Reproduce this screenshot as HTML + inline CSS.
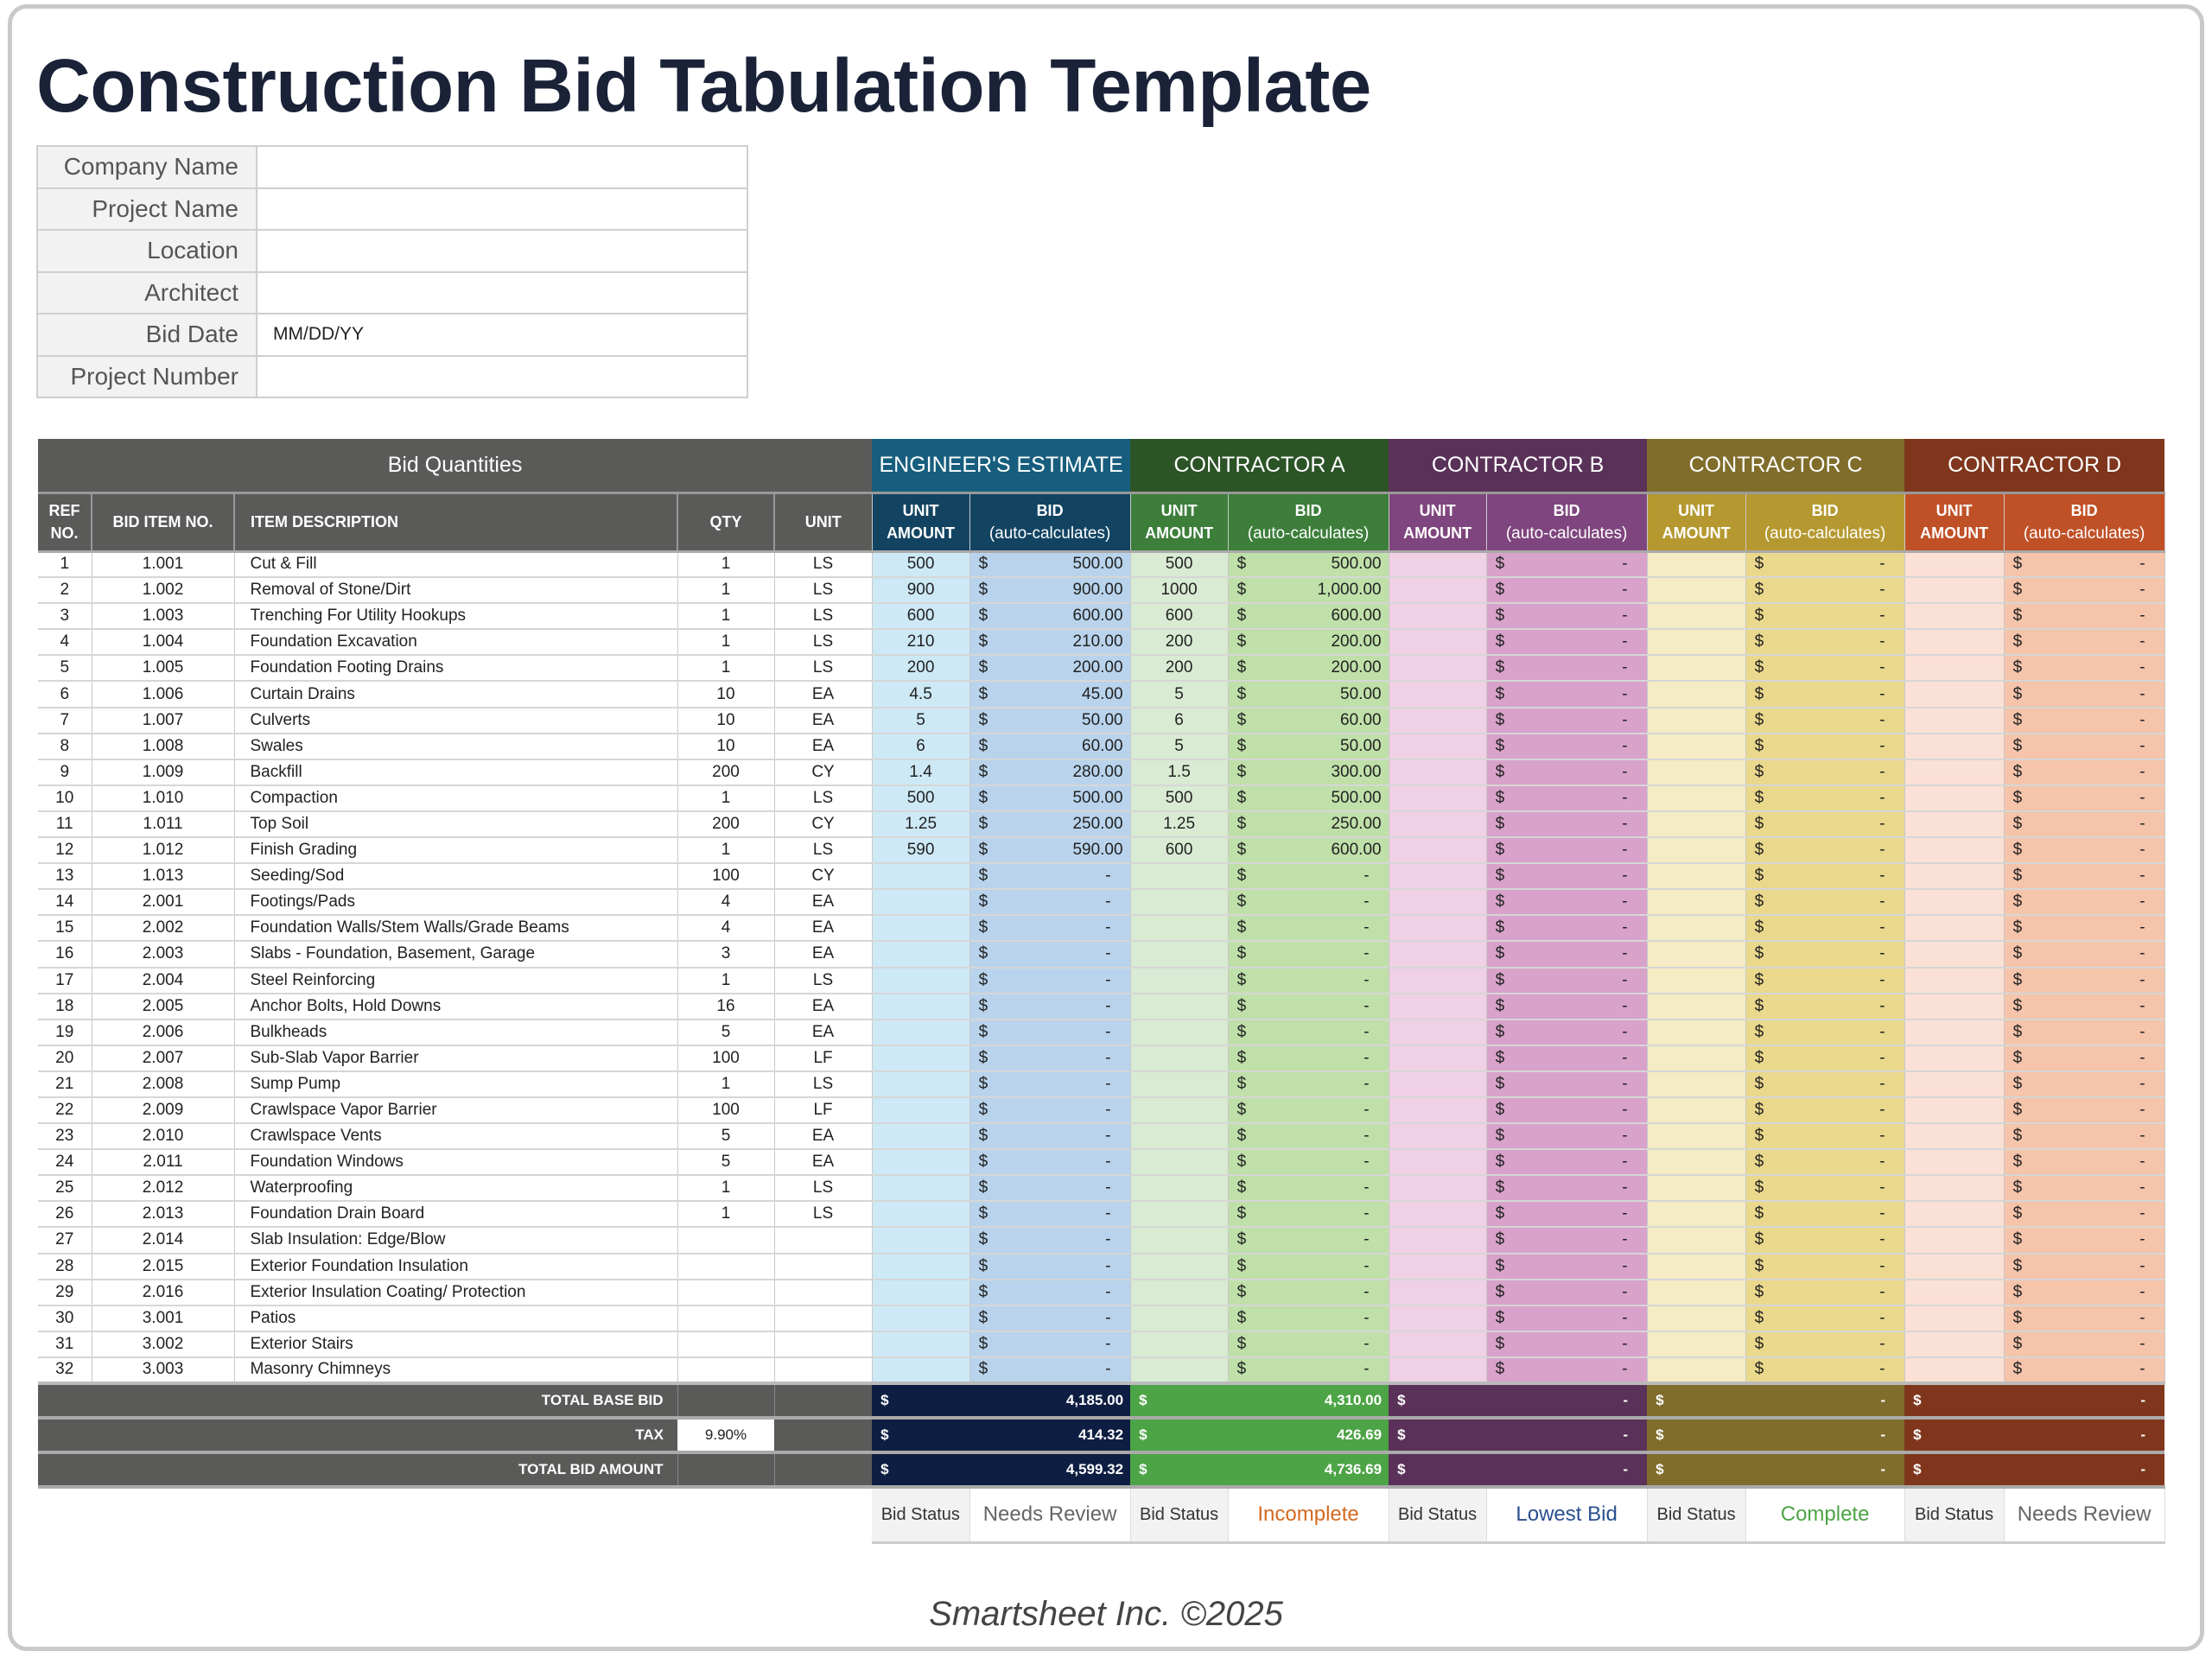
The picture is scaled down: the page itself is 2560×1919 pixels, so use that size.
<!DOCTYPE html>
<html><head><meta charset="utf-8"><style>
*{box-sizing:border-box;margin:0;padding:0}
body{width:2560px;height:1919px;background:#fff;font-family:"Liberation Sans",sans-serif;position:relative;overflow:hidden}
.frame{position:absolute;left:9px;top:5px;width:2542px;height:1906px;border:5px solid #c9c9c9;border-radius:22px}
h1{position:absolute;left:42px;top:50px;font-size:87px;font-weight:bold;color:#1a2238;letter-spacing:-0.5px;white-space:nowrap}
.info{position:absolute;left:42px;top:168px;border-collapse:collapse;width:824px}
.info td{border:2px solid #cfcfcf;height:48.5px;font-size:28px;color:#555}
.info td.l{width:254px;background:#f2f2f2;text-align:right;padding-right:20px}
.info td.v{font-size:21px;color:#222;padding-left:18px}
table.m{position:absolute;left:44px;top:508px;border-collapse:collapse;table-layout:fixed;width:2461px}
.m td{font-size:19px;color:#222;text-align:center;white-space:nowrap;overflow:hidden;border-bottom:2px solid #d6d6d6;border-right:1px solid #c8c8c8;height:30.1px;padding:0 6px}
.m td.d{text-align:left;padding-left:18px}
.h1 td{height:62px;font-size:25px;color:#fff;border:none;border-bottom:3px solid #999}
.h2 td{height:68px;font-size:18px;font-weight:bold;color:#fff;border-bottom:3px solid #aaa;line-height:26px}
.h2 td span{font-weight:normal;font-size:19px}
.g{background:#5a5b59;color:#fff!important}
.mo{text-align:right!important;padding-right:8px!important}
.mo i{float:left;font-style:normal;padding-left:4px}
.e1{background:#cde9f6}.e2{background:#b9d3ec;border-left:1px dashed #fff}
.a1{background:#d9ebd3}.a2{background:#bfe0a9;border-left:1px dashed #fff}
.b1{background:#efd0e5}.b2{background:#d8a2ca;border-left:1px dashed #fff}
.c1{background:#f5ebc4}.c2{background:#ead98c;border-left:1px dashed #fff}
.x1{background:#fbe1d5}.x2{background:#f5c4ab;border-left:1px dashed #fff}
.dsh{padding-right:22px!important}
.t td{height:40px;font-size:17px;font-weight:bold;color:#fff;border-bottom:4px solid #aaa;border-right:none}
.s td{height:64px;border:none;border-bottom:3px solid #ccc;font-size:20px;color:#333}
.s td.sl{background:#f2f2f2;border-right:1px solid #ddd}
.s td.sv{font-size:24px;border-right:1px solid #ddd}
.foot{position:absolute;left:0;width:2560px;top:1846px;text-align:center;font-size:40px;font-style:italic;color:#444}
</style></head><body>
<div class="frame"></div>
<h1>Construction Bid Tabulation Template</h1>
<table class="info">
<tr><td class="l">Company Name</td><td></td></tr>
<tr><td class="l">Project Name</td><td></td></tr>
<tr><td class="l">Location</td><td></td></tr>
<tr><td class="l">Architect</td><td></td></tr>
<tr><td class="l">Bid Date</td><td class="v">MM/DD/YY</td></tr>
<tr><td class="l">Project Number</td><td></td></tr>
</table>
<table class="m">
<colgroup><col style="width:62px"><col style="width:165px"><col style="width:513px"><col style="width:112px"><col style="width:113px"><col style="width:113px"><col style="width:186px"><col style="width:113px"><col style="width:186px"><col style="width:113px"><col style="width:186px"><col style="width:114px"><col style="width:184px"><col style="width:115px"><col style="width:186px"></colgroup>
<tr class="h1"><td colspan="5" class="g">Bid Quantities</td><td colspan="2" style="background:#175e7e">ENGINEER'S ESTIMATE</td><td colspan="2" style="background:#2c5427">CONTRACTOR A</td><td colspan="2" style="background:#5a3159">CONTRACTOR B</td><td colspan="2" style="background:#806d2b">CONTRACTOR C</td><td colspan="2" style="background:#7f361c">CONTRACTOR D</td></tr>
<tr class="h2"><td class="g" style="border-right:2px solid #999">REF<br>NO.</td><td class="g" style="border-right:2px solid #999">BID ITEM NO.</td><td class="g" style="text-align:left;padding-left:18px;border-right:2px solid #999">ITEM DESCRIPTION</td><td class="g" style="border-right:2px solid #999">QTY</td><td class="g">UNIT</td>
<td style="background:#124462">UNIT<br>AMOUNT</td><td style="background:#124462;border-left:1px dashed #fff">BID<br><span>(auto-calculates)</span></td>
<td style="background:#3c7e3a">UNIT<br>AMOUNT</td><td style="background:#3c7e3a;border-left:1px dashed #fff">BID<br><span>(auto-calculates)</span></td>
<td style="background:#7f457e">UNIT<br>AMOUNT</td><td style="background:#7f457e;border-left:1px dashed #fff">BID<br><span>(auto-calculates)</span></td>
<td style="background:#b59930">UNIT<br>AMOUNT</td><td style="background:#b59930;border-left:1px dashed #fff">BID<br><span>(auto-calculates)</span></td>
<td style="background:#c05127">UNIT<br>AMOUNT</td><td style="background:#c05127;border-left:1px dashed #fff">BID<br><span>(auto-calculates)</span></td></tr>
<tr><td>1</td><td>1.001</td><td class="d">Cut &amp; Fill</td><td>1</td><td>LS</td><td class="e1">500</td><td class="e2 mo"><i>$</i>500.00</td><td class="a1">500</td><td class="a2 mo"><i>$</i>500.00</td><td class="b1"></td><td class="b2 mo dsh"><i>$</i>-</td><td class="c1"></td><td class="c2 mo dsh"><i>$</i>-</td><td class="x1"></td><td class="x2 mo dsh"><i>$</i>-</td></tr>
<tr><td>2</td><td>1.002</td><td class="d">Removal of Stone/Dirt</td><td>1</td><td>LS</td><td class="e1">900</td><td class="e2 mo"><i>$</i>900.00</td><td class="a1">1000</td><td class="a2 mo"><i>$</i>1,000.00</td><td class="b1"></td><td class="b2 mo dsh"><i>$</i>-</td><td class="c1"></td><td class="c2 mo dsh"><i>$</i>-</td><td class="x1"></td><td class="x2 mo dsh"><i>$</i>-</td></tr>
<tr><td>3</td><td>1.003</td><td class="d">Trenching For Utility Hookups</td><td>1</td><td>LS</td><td class="e1">600</td><td class="e2 mo"><i>$</i>600.00</td><td class="a1">600</td><td class="a2 mo"><i>$</i>600.00</td><td class="b1"></td><td class="b2 mo dsh"><i>$</i>-</td><td class="c1"></td><td class="c2 mo dsh"><i>$</i>-</td><td class="x1"></td><td class="x2 mo dsh"><i>$</i>-</td></tr>
<tr><td>4</td><td>1.004</td><td class="d">Foundation Excavation</td><td>1</td><td>LS</td><td class="e1">210</td><td class="e2 mo"><i>$</i>210.00</td><td class="a1">200</td><td class="a2 mo"><i>$</i>200.00</td><td class="b1"></td><td class="b2 mo dsh"><i>$</i>-</td><td class="c1"></td><td class="c2 mo dsh"><i>$</i>-</td><td class="x1"></td><td class="x2 mo dsh"><i>$</i>-</td></tr>
<tr><td>5</td><td>1.005</td><td class="d">Foundation Footing Drains</td><td>1</td><td>LS</td><td class="e1">200</td><td class="e2 mo"><i>$</i>200.00</td><td class="a1">200</td><td class="a2 mo"><i>$</i>200.00</td><td class="b1"></td><td class="b2 mo dsh"><i>$</i>-</td><td class="c1"></td><td class="c2 mo dsh"><i>$</i>-</td><td class="x1"></td><td class="x2 mo dsh"><i>$</i>-</td></tr>
<tr><td>6</td><td>1.006</td><td class="d">Curtain Drains</td><td>10</td><td>EA</td><td class="e1">4.5</td><td class="e2 mo"><i>$</i>45.00</td><td class="a1">5</td><td class="a2 mo"><i>$</i>50.00</td><td class="b1"></td><td class="b2 mo dsh"><i>$</i>-</td><td class="c1"></td><td class="c2 mo dsh"><i>$</i>-</td><td class="x1"></td><td class="x2 mo dsh"><i>$</i>-</td></tr>
<tr><td>7</td><td>1.007</td><td class="d">Culverts</td><td>10</td><td>EA</td><td class="e1">5</td><td class="e2 mo"><i>$</i>50.00</td><td class="a1">6</td><td class="a2 mo"><i>$</i>60.00</td><td class="b1"></td><td class="b2 mo dsh"><i>$</i>-</td><td class="c1"></td><td class="c2 mo dsh"><i>$</i>-</td><td class="x1"></td><td class="x2 mo dsh"><i>$</i>-</td></tr>
<tr><td>8</td><td>1.008</td><td class="d">Swales</td><td>10</td><td>EA</td><td class="e1">6</td><td class="e2 mo"><i>$</i>60.00</td><td class="a1">5</td><td class="a2 mo"><i>$</i>50.00</td><td class="b1"></td><td class="b2 mo dsh"><i>$</i>-</td><td class="c1"></td><td class="c2 mo dsh"><i>$</i>-</td><td class="x1"></td><td class="x2 mo dsh"><i>$</i>-</td></tr>
<tr><td>9</td><td>1.009</td><td class="d">Backfill</td><td>200</td><td>CY</td><td class="e1">1.4</td><td class="e2 mo"><i>$</i>280.00</td><td class="a1">1.5</td><td class="a2 mo"><i>$</i>300.00</td><td class="b1"></td><td class="b2 mo dsh"><i>$</i>-</td><td class="c1"></td><td class="c2 mo dsh"><i>$</i>-</td><td class="x1"></td><td class="x2 mo dsh"><i>$</i>-</td></tr>
<tr><td>10</td><td>1.010</td><td class="d">Compaction</td><td>1</td><td>LS</td><td class="e1">500</td><td class="e2 mo"><i>$</i>500.00</td><td class="a1">500</td><td class="a2 mo"><i>$</i>500.00</td><td class="b1"></td><td class="b2 mo dsh"><i>$</i>-</td><td class="c1"></td><td class="c2 mo dsh"><i>$</i>-</td><td class="x1"></td><td class="x2 mo dsh"><i>$</i>-</td></tr>
<tr><td>11</td><td>1.011</td><td class="d">Top Soil</td><td>200</td><td>CY</td><td class="e1">1.25</td><td class="e2 mo"><i>$</i>250.00</td><td class="a1">1.25</td><td class="a2 mo"><i>$</i>250.00</td><td class="b1"></td><td class="b2 mo dsh"><i>$</i>-</td><td class="c1"></td><td class="c2 mo dsh"><i>$</i>-</td><td class="x1"></td><td class="x2 mo dsh"><i>$</i>-</td></tr>
<tr><td>12</td><td>1.012</td><td class="d">Finish Grading</td><td>1</td><td>LS</td><td class="e1">590</td><td class="e2 mo"><i>$</i>590.00</td><td class="a1">600</td><td class="a2 mo"><i>$</i>600.00</td><td class="b1"></td><td class="b2 mo dsh"><i>$</i>-</td><td class="c1"></td><td class="c2 mo dsh"><i>$</i>-</td><td class="x1"></td><td class="x2 mo dsh"><i>$</i>-</td></tr>
<tr><td>13</td><td>1.013</td><td class="d">Seeding/Sod</td><td>100</td><td>CY</td><td class="e1"></td><td class="e2 mo dsh"><i>$</i>-</td><td class="a1"></td><td class="a2 mo dsh"><i>$</i>-</td><td class="b1"></td><td class="b2 mo dsh"><i>$</i>-</td><td class="c1"></td><td class="c2 mo dsh"><i>$</i>-</td><td class="x1"></td><td class="x2 mo dsh"><i>$</i>-</td></tr>
<tr><td>14</td><td>2.001</td><td class="d">Footings/Pads</td><td>4</td><td>EA</td><td class="e1"></td><td class="e2 mo dsh"><i>$</i>-</td><td class="a1"></td><td class="a2 mo dsh"><i>$</i>-</td><td class="b1"></td><td class="b2 mo dsh"><i>$</i>-</td><td class="c1"></td><td class="c2 mo dsh"><i>$</i>-</td><td class="x1"></td><td class="x2 mo dsh"><i>$</i>-</td></tr>
<tr><td>15</td><td>2.002</td><td class="d">Foundation Walls/Stem Walls/Grade Beams</td><td>4</td><td>EA</td><td class="e1"></td><td class="e2 mo dsh"><i>$</i>-</td><td class="a1"></td><td class="a2 mo dsh"><i>$</i>-</td><td class="b1"></td><td class="b2 mo dsh"><i>$</i>-</td><td class="c1"></td><td class="c2 mo dsh"><i>$</i>-</td><td class="x1"></td><td class="x2 mo dsh"><i>$</i>-</td></tr>
<tr><td>16</td><td>2.003</td><td class="d">Slabs - Foundation, Basement, Garage</td><td>3</td><td>EA</td><td class="e1"></td><td class="e2 mo dsh"><i>$</i>-</td><td class="a1"></td><td class="a2 mo dsh"><i>$</i>-</td><td class="b1"></td><td class="b2 mo dsh"><i>$</i>-</td><td class="c1"></td><td class="c2 mo dsh"><i>$</i>-</td><td class="x1"></td><td class="x2 mo dsh"><i>$</i>-</td></tr>
<tr><td>17</td><td>2.004</td><td class="d">Steel Reinforcing</td><td>1</td><td>LS</td><td class="e1"></td><td class="e2 mo dsh"><i>$</i>-</td><td class="a1"></td><td class="a2 mo dsh"><i>$</i>-</td><td class="b1"></td><td class="b2 mo dsh"><i>$</i>-</td><td class="c1"></td><td class="c2 mo dsh"><i>$</i>-</td><td class="x1"></td><td class="x2 mo dsh"><i>$</i>-</td></tr>
<tr><td>18</td><td>2.005</td><td class="d">Anchor Bolts, Hold Downs</td><td>16</td><td>EA</td><td class="e1"></td><td class="e2 mo dsh"><i>$</i>-</td><td class="a1"></td><td class="a2 mo dsh"><i>$</i>-</td><td class="b1"></td><td class="b2 mo dsh"><i>$</i>-</td><td class="c1"></td><td class="c2 mo dsh"><i>$</i>-</td><td class="x1"></td><td class="x2 mo dsh"><i>$</i>-</td></tr>
<tr><td>19</td><td>2.006</td><td class="d">Bulkheads</td><td>5</td><td>EA</td><td class="e1"></td><td class="e2 mo dsh"><i>$</i>-</td><td class="a1"></td><td class="a2 mo dsh"><i>$</i>-</td><td class="b1"></td><td class="b2 mo dsh"><i>$</i>-</td><td class="c1"></td><td class="c2 mo dsh"><i>$</i>-</td><td class="x1"></td><td class="x2 mo dsh"><i>$</i>-</td></tr>
<tr><td>20</td><td>2.007</td><td class="d">Sub-Slab Vapor Barrier</td><td>100</td><td>LF</td><td class="e1"></td><td class="e2 mo dsh"><i>$</i>-</td><td class="a1"></td><td class="a2 mo dsh"><i>$</i>-</td><td class="b1"></td><td class="b2 mo dsh"><i>$</i>-</td><td class="c1"></td><td class="c2 mo dsh"><i>$</i>-</td><td class="x1"></td><td class="x2 mo dsh"><i>$</i>-</td></tr>
<tr><td>21</td><td>2.008</td><td class="d">Sump Pump</td><td>1</td><td>LS</td><td class="e1"></td><td class="e2 mo dsh"><i>$</i>-</td><td class="a1"></td><td class="a2 mo dsh"><i>$</i>-</td><td class="b1"></td><td class="b2 mo dsh"><i>$</i>-</td><td class="c1"></td><td class="c2 mo dsh"><i>$</i>-</td><td class="x1"></td><td class="x2 mo dsh"><i>$</i>-</td></tr>
<tr><td>22</td><td>2.009</td><td class="d">Crawlspace Vapor Barrier</td><td>100</td><td>LF</td><td class="e1"></td><td class="e2 mo dsh"><i>$</i>-</td><td class="a1"></td><td class="a2 mo dsh"><i>$</i>-</td><td class="b1"></td><td class="b2 mo dsh"><i>$</i>-</td><td class="c1"></td><td class="c2 mo dsh"><i>$</i>-</td><td class="x1"></td><td class="x2 mo dsh"><i>$</i>-</td></tr>
<tr><td>23</td><td>2.010</td><td class="d">Crawlspace Vents</td><td>5</td><td>EA</td><td class="e1"></td><td class="e2 mo dsh"><i>$</i>-</td><td class="a1"></td><td class="a2 mo dsh"><i>$</i>-</td><td class="b1"></td><td class="b2 mo dsh"><i>$</i>-</td><td class="c1"></td><td class="c2 mo dsh"><i>$</i>-</td><td class="x1"></td><td class="x2 mo dsh"><i>$</i>-</td></tr>
<tr><td>24</td><td>2.011</td><td class="d">Foundation Windows</td><td>5</td><td>EA</td><td class="e1"></td><td class="e2 mo dsh"><i>$</i>-</td><td class="a1"></td><td class="a2 mo dsh"><i>$</i>-</td><td class="b1"></td><td class="b2 mo dsh"><i>$</i>-</td><td class="c1"></td><td class="c2 mo dsh"><i>$</i>-</td><td class="x1"></td><td class="x2 mo dsh"><i>$</i>-</td></tr>
<tr><td>25</td><td>2.012</td><td class="d">Waterproofing</td><td>1</td><td>LS</td><td class="e1"></td><td class="e2 mo dsh"><i>$</i>-</td><td class="a1"></td><td class="a2 mo dsh"><i>$</i>-</td><td class="b1"></td><td class="b2 mo dsh"><i>$</i>-</td><td class="c1"></td><td class="c2 mo dsh"><i>$</i>-</td><td class="x1"></td><td class="x2 mo dsh"><i>$</i>-</td></tr>
<tr><td>26</td><td>2.013</td><td class="d">Foundation Drain Board</td><td>1</td><td>LS</td><td class="e1"></td><td class="e2 mo dsh"><i>$</i>-</td><td class="a1"></td><td class="a2 mo dsh"><i>$</i>-</td><td class="b1"></td><td class="b2 mo dsh"><i>$</i>-</td><td class="c1"></td><td class="c2 mo dsh"><i>$</i>-</td><td class="x1"></td><td class="x2 mo dsh"><i>$</i>-</td></tr>
<tr><td>27</td><td>2.014</td><td class="d">Slab Insulation: Edge/Blow</td><td></td><td></td><td class="e1"></td><td class="e2 mo dsh"><i>$</i>-</td><td class="a1"></td><td class="a2 mo dsh"><i>$</i>-</td><td class="b1"></td><td class="b2 mo dsh"><i>$</i>-</td><td class="c1"></td><td class="c2 mo dsh"><i>$</i>-</td><td class="x1"></td><td class="x2 mo dsh"><i>$</i>-</td></tr>
<tr><td>28</td><td>2.015</td><td class="d">Exterior Foundation Insulation</td><td></td><td></td><td class="e1"></td><td class="e2 mo dsh"><i>$</i>-</td><td class="a1"></td><td class="a2 mo dsh"><i>$</i>-</td><td class="b1"></td><td class="b2 mo dsh"><i>$</i>-</td><td class="c1"></td><td class="c2 mo dsh"><i>$</i>-</td><td class="x1"></td><td class="x2 mo dsh"><i>$</i>-</td></tr>
<tr><td>29</td><td>2.016</td><td class="d">Exterior Insulation Coating/ Protection</td><td></td><td></td><td class="e1"></td><td class="e2 mo dsh"><i>$</i>-</td><td class="a1"></td><td class="a2 mo dsh"><i>$</i>-</td><td class="b1"></td><td class="b2 mo dsh"><i>$</i>-</td><td class="c1"></td><td class="c2 mo dsh"><i>$</i>-</td><td class="x1"></td><td class="x2 mo dsh"><i>$</i>-</td></tr>
<tr><td>30</td><td>3.001</td><td class="d">Patios</td><td></td><td></td><td class="e1"></td><td class="e2 mo dsh"><i>$</i>-</td><td class="a1"></td><td class="a2 mo dsh"><i>$</i>-</td><td class="b1"></td><td class="b2 mo dsh"><i>$</i>-</td><td class="c1"></td><td class="c2 mo dsh"><i>$</i>-</td><td class="x1"></td><td class="x2 mo dsh"><i>$</i>-</td></tr>
<tr><td>31</td><td>3.002</td><td class="d">Exterior Stairs</td><td></td><td></td><td class="e1"></td><td class="e2 mo dsh"><i>$</i>-</td><td class="a1"></td><td class="a2 mo dsh"><i>$</i>-</td><td class="b1"></td><td class="b2 mo dsh"><i>$</i>-</td><td class="c1"></td><td class="c2 mo dsh"><i>$</i>-</td><td class="x1"></td><td class="x2 mo dsh"><i>$</i>-</td></tr>
<tr style="border-bottom:4px solid #bbb"><td>32</td><td>3.003</td><td class="d">Masonry Chimneys</td><td></td><td></td><td class="e1"></td><td class="e2 mo dsh"><i>$</i>-</td><td class="a1"></td><td class="a2 mo dsh"><i>$</i>-</td><td class="b1"></td><td class="b2 mo dsh"><i>$</i>-</td><td class="c1"></td><td class="c2 mo dsh"><i>$</i>-</td><td class="x1"></td><td class="x2 mo dsh"><i>$</i>-</td></tr>
<tr class="t"><td colspan="3" class="g" style="text-align:right;padding-right:16px">TOTAL BASE BID</td><td class="g" style="border-left:1px solid #888;border-right:1px solid #888"></td><td class="g"></td><td colspan="2" class="mo" style="background:#0e1e42"><i>$</i>4,185.00</td><td colspan="2" class="mo" style="background:#4da446"><i>$</i>4,310.00</td><td colspan="2" class="mo dsh" style="background:#5a3159"><i>$</i>-</td><td colspan="2" class="mo dsh" style="background:#806d2b"><i>$</i>-</td><td colspan="2" class="mo dsh" style="background:#7f361c"><i>$</i>-</td></tr>
<tr class="t"><td colspan="3" class="g" style="text-align:right;padding-right:16px">TAX</td><td style="background:#fff;color:#222;font-weight:normal">9.90%</td><td class="g"></td><td colspan="2" class="mo" style="background:#0e1e42"><i>$</i>414.32</td><td colspan="2" class="mo" style="background:#4da446"><i>$</i>426.69</td><td colspan="2" class="mo dsh" style="background:#5a3159"><i>$</i>-</td><td colspan="2" class="mo dsh" style="background:#806d2b"><i>$</i>-</td><td colspan="2" class="mo dsh" style="background:#7f361c"><i>$</i>-</td></tr>
<tr class="t"><td colspan="3" class="g" style="text-align:right;padding-right:16px">TOTAL BID AMOUNT</td><td class="g" style="border-left:1px solid #888;border-right:1px solid #888"></td><td class="g"></td><td colspan="2" class="mo" style="background:#0e1e42"><i>$</i>4,599.32</td><td colspan="2" class="mo" style="background:#4da446"><i>$</i>4,736.69</td><td colspan="2" class="mo dsh" style="background:#5a3159"><i>$</i>-</td><td colspan="2" class="mo dsh" style="background:#806d2b"><i>$</i>-</td><td colspan="2" class="mo dsh" style="background:#7f361c"><i>$</i>-</td></tr>
<tr class="s"><td colspan="5" style="border-bottom:none"></td><td class="sl">Bid Status</td><td class="sv" style="color:#666">Needs Review</td><td class="sl">Bid Status</td><td class="sv" style="color:#d4691e">Incomplete</td><td class="sl">Bid Status</td><td class="sv" style="color:#2a4f8f">Lowest Bid</td><td class="sl">Bid Status</td><td class="sv" style="color:#4da446">Complete</td><td class="sl">Bid Status</td><td class="sv" style="color:#666">Needs Review</td></tr>
</table>
<div class="foot">Smartsheet Inc. ©2025</div>
</body></html>
